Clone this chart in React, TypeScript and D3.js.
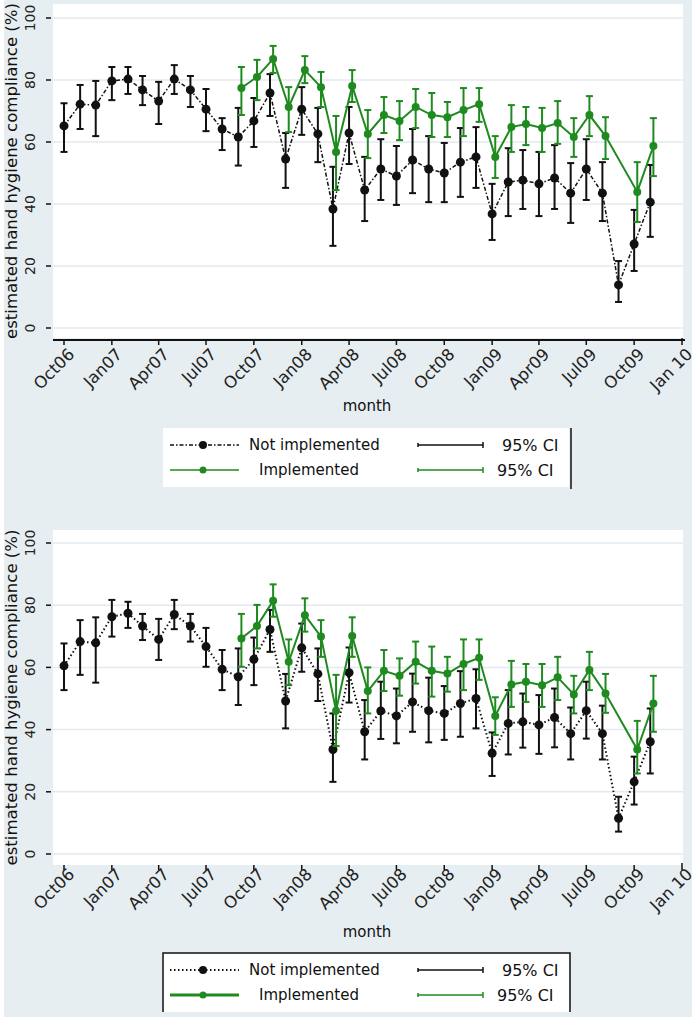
import React from "react";
import * as d3 from "d3";

const months = [
  "2006-10","2006-11","2006-12","2007-01","2007-02","2007-03","2007-04","2007-05","2007-06","2007-07",
  "2007-08","2007-09","2007-10","2007-11","2007-12","2008-01","2008-02","2008-03","2008-04","2008-05",
  "2008-06","2008-07","2008-08","2008-09","2008-10","2008-11","2008-12","2009-01","2009-02","2009-03",
  "2009-04","2009-05","2009-06","2009-07","2009-08","2009-09","2009-10","2009-11",
];

const tickDates = ["2006-10","2007-01","2007-04","2007-07","2007-10","2008-01","2008-04","2008-07","2008-10","2009-01","2009-04","2009-07","2009-10","2010-01"];
const tickLabels = ["Oct06","Jan07","Apr07","Jul07","Oct07","Jan08","Apr08","Jul08","Oct08","Jan09","Apr09","Jul09","Oct09","Jan 10"];
const yTicks = [0, 20, 40, 60, 80, 100];

type V = number | null;
const N: null = null;

// Top panel
const topNotImpl: V[] = [65.2,72.2,71.9,79.7,80.3,76.8,73.2,80.3,76.8,70.6,64.2,61.6,66.8,75.8,54.5,70.6,62.6,38.4,62.9,44.5,51.3,49.0,54.2,51.3,50.0,53.5,55.2,36.8,47.1,47.7,46.5,48.4,43.5,51.3,43.5,13.9,27.1,40.6];
const topNotImplLo: V[] = [56.8,64.2,61.9,73.5,75.5,71.9,65.8,75.5,71.3,63.5,57.4,52.4,58.4,68.4,45.2,62.3,53.5,26.5,52.9,34.5,41.3,39.7,43.5,40.6,40.6,42.3,45.2,28.4,36.1,38.4,36.1,38.4,33.9,41.3,34.5,8.4,18.4,29.4];
const topNotImplHi: V[] = [72.5,78.4,79.7,84.2,84.2,81.3,79.4,84.8,81.3,77.1,67.7,71.0,74.2,81.9,62.9,77.7,71.0,52.0,71.3,55.2,60.9,58.7,64.2,61.9,59.7,64.5,64.8,46.5,58.0,57.4,56.8,59.0,53.2,60.9,53.5,21.6,38.1,52.6];
const topImpl: V[] = [N,N,N,N,N,N,N,N,N,N,N,77.4,81.0,86.8,71.3,83.2,77.7,56.8,78.1,62.6,68.7,66.8,71.3,68.7,68.0,70.3,72.2,55.2,64.8,65.8,64.5,66.1,61.6,68.7,61.9,N,43.9,58.7];
const topImplLo: V[] = [N,N,N,N,N,N,N,N,N,N,N,68.7,73.5,82.3,63.2,79.0,71.3,44.5,72.9,54.8,62.9,60.6,64.5,61.6,61.6,61.9,66.5,48.4,56.8,59.0,56.8,59.4,55.2,61.9,54.5,N,34.2,49.0];
const topImplHi: V[] = [N,N,N,N,N,N,N,N,N,N,N,84.2,86.5,91.0,77.7,87.7,82.6,68.4,83.2,70.3,74.5,73.2,77.1,75.8,72.9,77.4,77.4,61.9,71.9,71.3,71.0,73.2,67.7,74.8,68.0,N,53.5,67.7];

// Bottom panel
const botNotImpl: V[] = [60.5,68.3,67.9,76.3,77.4,73.3,69.0,77.0,73.3,66.7,59.4,57.0,62.6,72.2,49.2,66.3,57.9,33.6,58.3,39.3,46.0,44.4,48.9,46.1,45.2,48.4,50.0,32.4,42.0,42.5,41.5,43.9,38.7,46.1,38.7,11.5,23.2,36.1];
const botNotImplLo: V[] = [52.7,57.6,55.1,69.9,72.7,68.8,62.4,72.3,68.3,60.2,52.7,47.9,54.3,65.0,40.4,58.6,49.2,23.2,48.7,30.4,37.0,35.6,39.3,35.9,36.7,37.7,40.4,25.1,32.0,34.2,32.2,34.3,30.4,37.1,30.4,7.2,15.9,25.9];
const botNotImplHi: V[] = [67.7,75.2,76.1,81.7,81.1,77.2,75.6,81.7,77.2,72.7,65.6,66.1,69.6,78.5,57.9,74.1,66.1,45.2,66.4,49.5,55.4,53.2,58.0,56.7,54.0,58.8,59.4,39.1,52.7,51.6,51.1,53.2,47.1,55.4,47.7,18.4,31.3,46.8];
const botImpl: V[] = [N,N,N,N,N,N,N,N,N,N,N,69.3,73.3,81.4,61.8,76.8,69.9,46.1,70.1,52.4,58.9,57.3,61.8,58.9,58.0,61.1,63.1,44.4,54.5,55.4,54.3,56.8,51.3,59.2,51.6,N,33.6,48.4];
const botImplLo: V[] = [N,N,N,N,N,N,N,N,N,N,N,60.2,66.1,76.3,54.3,71.5,63.4,34.7,63.4,45.2,52.4,50.9,54.8,50.6,52.2,52.7,56.0,38.3,47.3,48.9,47.3,49.5,45.2,52.7,45.4,N,25.9,39.3];
const botImplHi: V[] = [N,N,N,N,N,N,N,N,N,N,N,77.2,80.1,86.7,69.0,82.2,75.2,57.6,76.1,60.0,65.6,62.9,68.3,66.7,63.4,69.0,69.0,50.4,62.1,61.1,61.1,63.4,57.3,65.0,57.9,N,42.8,57.3];

const seriesNames = ["Not implemented", "Implemented"];
const ciLabel = "95% CI";
const xTitle = "month";
const yTitle = "estimated hand hygiene compliance (%)";

const W = 692, H = 1017;
const BG = "#e7eef1";
const GRID = "#e3eaee";
const GREEN = "#1f8a1f";
const BLACK = "#111";
const FONT = "DejaVu Sans, Verdana, sans-serif";
const parse = d3.timeParse("%Y-%m");
const GREEN_SHIFT_DAYS = 6;

const x = d3.scaleTime().domain([parse("2006-10")!, parse("2010-01")!]).range([64, 682]);

type PanelCfg = {
  y0: number; y100: number; plotTop: number; plotBottom: number;
  axisLine: boolean; tickY: number; labelY: number; monthY: number;
  legendTop: number; legendBorder: boolean; blackDash: string; blackWidth: number;
  legendGreenWidth: number;
  black: V[]; blackLo: V[]; blackHi: V[]; green: V[]; greenLo: V[]; greenHi: V[];
};

function Series({ y, vals, lo, hi, color, dash, width, shiftDays, r }: any) {
  const pts = months.map((m, i) => ({ d: d3.timeDay.offset(parse(m)!, shiftDays), v: vals[i], lo: lo[i], hi: hi[i] }))
    .filter((p) => p.v != null);
  const line = d3.line<any>().x((p) => x(p.d)).y((p) => y(p.v));
  return (
    <g>
      {pts.map((p, i) => (
        <g key={"e" + i} stroke={color} strokeWidth={2}>
          <line x1={x(p.d)} x2={x(p.d)} y1={y(p.lo)} y2={y(p.hi)} />
          <line x1={x(p.d) - 3.5} x2={x(p.d) + 3.5} y1={y(p.lo)} y2={y(p.lo)} />
          <line x1={x(p.d) - 3.5} x2={x(p.d) + 3.5} y1={y(p.hi)} y2={y(p.hi)} />
        </g>
      ))}
      <path d={line(pts) || ""} fill="none" stroke={color} strokeWidth={width} strokeDasharray={dash} />
      {pts.map((p, i) => (
        <circle key={"m" + i} cx={x(p.d)} cy={y(p.v)} r={r} fill={color} />
      ))}
    </g>
  );
}

function Panel({ c }: { c: PanelCfg }) {
  const y = d3.scaleLinear().domain([0, 100]).range([c.y0, c.y100]);
  const L = c.legendTop;
  const r1 = L + 17, r2 = L + 42;
  return (
    <g>
      <rect x={53} y={c.plotTop} width={630} height={c.plotBottom - c.plotTop} fill="#fff" />
      {yTicks.map((t) => (
        <g key={t}>
          <line x1={53} x2={683} y1={y(t)} y2={y(t)} stroke={GRID} strokeWidth={1.5} />
          <line x1={46} x2={51} y1={y(t)} y2={y(t)} stroke={BLACK} strokeWidth={1.5} />
          <text transform={`translate(35,${y(t)}) rotate(-90)`} textAnchor="middle" fontSize={14} fontFamily={FONT} fill="#222">{t}</text>
        </g>
      ))}
      <text transform={`translate(17,${(c.plotTop + c.plotBottom) / 2}) rotate(-90)`} textAnchor="middle" fontSize={16} fontFamily={FONT} fill="#111" textLength={336} lengthAdjust="spacingAndGlyphs">{yTitle}</text>
      {c.axisLine && <line x1={53} x2={685} y1={c.tickY} y2={c.tickY} stroke={BLACK} strokeWidth={2} />}
      {tickDates.map((d, i) => {
        const xx = x(parse(d)!);
        return (
          <g key={d}>
            <line x1={xx} x2={xx} y1={c.tickY - (i === tickDates.length - 1 ? 2 : 0)} y2={c.tickY + 5} stroke={BLACK} strokeWidth={1.5} />
            <text transform={`translate(${xx + 3},${c.labelY}) rotate(-45)`} textAnchor="end" dy="0.72em" fontSize={16.5} fontFamily={FONT} fill="#222">{tickLabels[i]}</text>
          </g>
        );
      })}
      <text x={367} y={c.monthY} textAnchor="middle" fontSize={15} fontFamily={FONT} fill="#111">{xTitle}</text>

      <Series y={y} vals={c.black} lo={c.blackLo} hi={c.blackHi} color={BLACK} dash={c.blackDash} width={c.blackWidth} shiftDays={0} r={4.5} />
      <Series y={y} vals={c.green} lo={c.greenLo} hi={c.greenHi} color={GREEN} dash={undefined} width={2} shiftDays={GREEN_SHIFT_DAYS} r={4} />

      {/* legend */}
      <rect x={163} y={L} width={406} height={59} fill="#fff" />
      {c.legendBorder ? (
        <path d={`M163,${L + 59} V${L} H570 V${L + 59}`} fill="none" stroke={BLACK} strokeWidth={1.5} />
      ) : (
        <line x1={571} x2={571} y1={L} y2={L + 61} stroke={BLACK} strokeWidth={1.5} />
      )}
      <line x1={170} x2={239} y1={r1} y2={r1} stroke={BLACK} strokeWidth={c.blackWidth} strokeDasharray={c.blackDash} />
      <circle cx={203} cy={r1} r={4} fill={BLACK} />
      <line x1={170} x2={239} y1={r2} y2={r2} stroke={GREEN} strokeWidth={c.legendGreenWidth} />
      <circle cx={203} cy={r2} r={3.5} fill={GREEN} />
      <text x={249} y={r1} dy="0.36em" fontSize={15} fontFamily={FONT} fill="#111">{seriesNames[0]}</text>
      <text x={259} y={r2} dy="0.36em" fontSize={15} fontFamily={FONT} fill="#111">{seriesNames[1]}</text>
      {[{ yy: r1, col: BLACK, tx: 502 }, { yy: r2, col: GREEN, tx: 497 }].map((s, i) => (
        <g key={i} stroke={s.col} strokeWidth={1.5}>
          <line x1={418} x2={483} y1={s.yy} y2={s.yy} />
          <line x1={418} x2={418} y1={s.yy - 2} y2={s.yy + 2} />
          <line x1={483} x2={483} y1={s.yy - 3} y2={s.yy + 3} />
          <text x={s.tx} y={s.yy} dy="0.36em" stroke="none" fontSize={16} fontFamily={FONT} fill="#111">{ciLabel}</text>
        </g>
      ))}
    </g>
  );
}

const topCfg: PanelCfg = {
  y0: 328, y100: 18, plotTop: 4, plotBottom: 338, axisLine: true, tickY: 340, labelY: 347, monthY: 411,
  legendTop: 428, legendBorder: false, blackDash: "4,2,1.5,2", blackWidth: 1.5, legendGreenWidth: 1.5,
  black: topNotImpl, blackLo: topNotImplLo, blackHi: topNotImplHi,
  green: topImpl, greenLo: topImplLo, greenHi: topImplHi,
};
const botCfg: PanelCfg = {
  y0: 854, y100: 543, plotTop: 530, plotBottom: 865, axisLine: false, tickY: 865, labelY: 867, monthY: 937,
  legendTop: 953, legendBorder: true, blackDash: "1.5,2.5", blackWidth: 2, legendGreenWidth: 3,
  black: botNotImpl, blackLo: botNotImplLo, blackHi: botNotImplHi,
  green: botImpl, greenLo: botImplLo, greenHi: botImplHi,
};

export default function App() {
  return (
    <svg width={W} height={H} style={{ position: "absolute", left: 0, top: 0, display: "block" }}>
      <rect x={0} y={0} width={W} height={H} fill="#fff" />
      <rect x={4} y={0} width={W - 4} height={H} fill={BG} />
      <Panel c={topCfg} />
      <Panel c={botCfg} />
    </svg>
  );
}
